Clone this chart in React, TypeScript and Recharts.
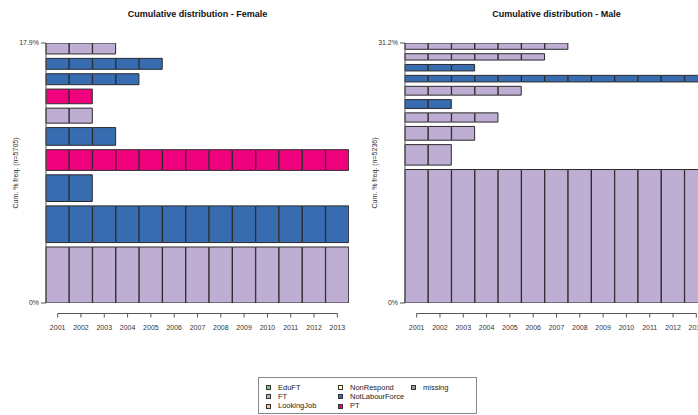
import { BarChart, Bar, Cell, XAxis, YAxis } from "recharts";

const years = ["2001", "2002", "2003", "2004", "2005", "2006", "2007", "2008", "2009", "2010", "2011", "2012", "2013"];

const stateNames = ["EduFT", "FT", "LookingJob", "NonRespond", "NotLabourForce", "PT", "missing"];
const stateColors = ["#7FC97F", "#BEAED4", "#FDC086", "#FFFF99", "#386CB0", "#F0027F", "#9A9A9A"];

// sequences as [state, years spent], most frequent first (bottom row)
const femaleSeqs: [string, number][] = [
  ["FT", 13],
  ["NotLabourForce", 13],
  ["NotLabourForce", 2],
  ["PT", 13],
  ["NotLabourForce", 3],
  ["FT", 2],
  ["PT", 2],
  ["NotLabourForce", 4],
  ["NotLabourForce", 5],
  ["FT", 3],
];
const femaleFreq = [4.55, 2.98, 2.17, 1.68, 1.44, 1.22, 1.19, 0.89, 0.89, 0.89];

const maleSeqs: [string, number][] = [
  ["FT", 13],
  ["FT", 2],
  ["FT", 3],
  ["FT", 4],
  ["NotLabourForce", 2],
  ["FT", 5],
  ["NotLabourForce", 13],
  ["NotLabourForce", 3],
  ["FT", 6],
  ["FT", 7],
];
const maleFreq = [18.9, 2.9, 1.95, 1.3, 1.26, 1.25, 0.93, 0.92, 0.9, 0.89];

const FONT = '"Liberation Sans", Arial, sans-serif';
const PLOT_W = 303;
const AXIS_W = 46;
const CHART_W = AXIS_W + PLOT_W;
const CHART_H = 340;
const LINE = "#555";
const BORDER = "#2a2a2a";

const colorOf = (s: string) => stateColors[stateNames.indexOf(s)];

function YearTick(props: any) {
  const { x, y, payload, index } = props;
  const step = PLOT_W / years.length;
  return (
    <g>
      {index < years.length - 1 && (
        <line x1={x} x2={x + step} y1={y + 10.5} y2={y + 10.5} stroke={LINE} />
      )}
      <line x1={x} x2={x} y1={y + 10.5} y2={y + 14.5} stroke={LINE} />
      <text x={x} y={y + 27} textAnchor="middle" fontSize={7} fill="#333" fontFamily={FONT}>
        {payload.value}
      </text>
    </g>
  );
}

function FreqPlot({ seqs, freq, n, title, left }: { seqs: [string, number][]; freq: number[]; n: number; title: string; left: number }) {
  const total = freq.reduce((a, b) => a + b, 0);
  const gap = (0.2 * total) / freq.length;
  const top = total + gap * (freq.length - 1);

  const data = years.map((year) => {
    const row: Record<string, any> = { year };
    freq.forEach((f, i) => {
      row["r" + i] = f;
      if (i < freq.length - 1) row["g" + i] = gap;
    });
    return row;
  });

  const bars: any[] = [];
  seqs.forEach(([state, len], i) => {
    bars.push(
      <Bar key={"r" + i} dataKey={"r" + i} stackId="s" isAnimationActive={false}>
        {years.map((_, j) => (
          <Cell
            key={j}
            fill={j < len ? colorOf(state) : "none"}
            stroke={j < len ? BORDER : "none"}
            strokeWidth={1}
          />
        ))}
      </Bar>
    );
    if (i < seqs.length - 1) {
      bars.push(<Bar key={"g" + i} dataKey={"g" + i} stackId="s" fill="none" isAnimationActive={false} />);
    }
  });

  const yTitle = (p: any) => {
    const vb = p.viewBox || {};
    const cx = (vb.x ?? 0) + 15;
    const cy = (vb.y ?? 43) + (vb.height ?? 260) / 2;
    return (
      <text
        x={cx}
        y={cy}
        transform={`rotate(-90 ${cx} ${cy})`}
        textAnchor="middle"
        dominantBaseline="central"
        fontSize={7}
        fill="#333"
        fontFamily={FONT}
      >
        {`Cum. % freq. (n=${n})`}
      </text>
    );
  };

  return (
    <div style={{ position: "absolute", left, top: 0, width: CHART_W, height: CHART_H }}>
      <div
        style={{
          position: "absolute",
          left: AXIS_W,
          top: 9,
          width: PLOT_W,
          textAlign: "center",
          fontFamily: FONT,
          fontWeight: "bold",
          fontSize: 9,
          color: "#111",
        }}
      >
        {title}
      </div>
      <BarChart
        width={CHART_W}
        height={CHART_H}
        data={data}
        margin={{ top: 43, right: 0, bottom: 0, left: 0 }}
        barCategoryGap={0}
        barGap={0}
      >
        <XAxis
          dataKey="year"
          interval={0}
          height={37}
          axisLine={false}
          tickLine={false}
          tickSize={0}
          tickMargin={0}
          tick={<YearTick />}
        />
        <YAxis
          type="number"
          width={AXIS_W}
          domain={[0, top]}
          allowDataOverflow
          ticks={[0, top]}
          tickFormatter={(v: number) => (v > 0 ? `${total.toFixed(1)}%` : "0%")}
          tick={{ fontSize: 7, fill: "#333", fontFamily: FONT }}
          tickSize={5}
          tickMargin={2}
          axisLine={{ stroke: LINE }}
          tickLine={{ stroke: LINE }}
          label={{ content: yTitle }}
        />
        {bars}
      </BarChart>
    </div>
  );
}

const legendCols = [
  ["EduFT", "FT", "LookingJob"],
  ["NonRespond", "NotLabourForce", "PT"],
  ["missing"],
];
const legendColX = [7, 79, 152];

export default function App() {
  return (
    <div
      style={{
        position: "absolute",
        left: 0,
        top: 0,
        width: 698,
        height: 415,
        overflow: "hidden",
        background: "#fff",
      }}
    >
      <FreqPlot seqs={femaleSeqs} freq={femaleFreq} n={5705} title="Cumulative distribution - Female" left={0} />
      <FreqPlot seqs={maleSeqs} freq={maleFreq} n={5236} title="Cumulative distribution - Male" left={359} />
      <div
        style={{
          position: "absolute",
          left: 258,
          top: 377,
          width: 219,
          height: 37,
          border: "1px solid #888",
          boxSizing: "border-box",
          fontFamily: FONT,
          fontSize: 7.5,
          color: "#222",
        }}
      >
        {legendCols.map((col, c) =>
          col.map((name, r) => (
            <div
              key={name}
              style={{ position: "absolute", left: legendColX[c], top: 6.5 + r * 9.4, height: 6, display: "flex", alignItems: "center" }}
            >
              <span
                style={{
                  display: "inline-block",
                  width: 5,
                  height: 5,
                  background: colorOf(name),
                  border: "1px solid #333",
                  boxSizing: "border-box",
                  marginRight: 7,
                }}
              />
              <span style={{ lineHeight: "6px", whiteSpace: "nowrap" }}>{name}</span>
            </div>
          ))
        )}
      </div>
    </div>
  );
}
